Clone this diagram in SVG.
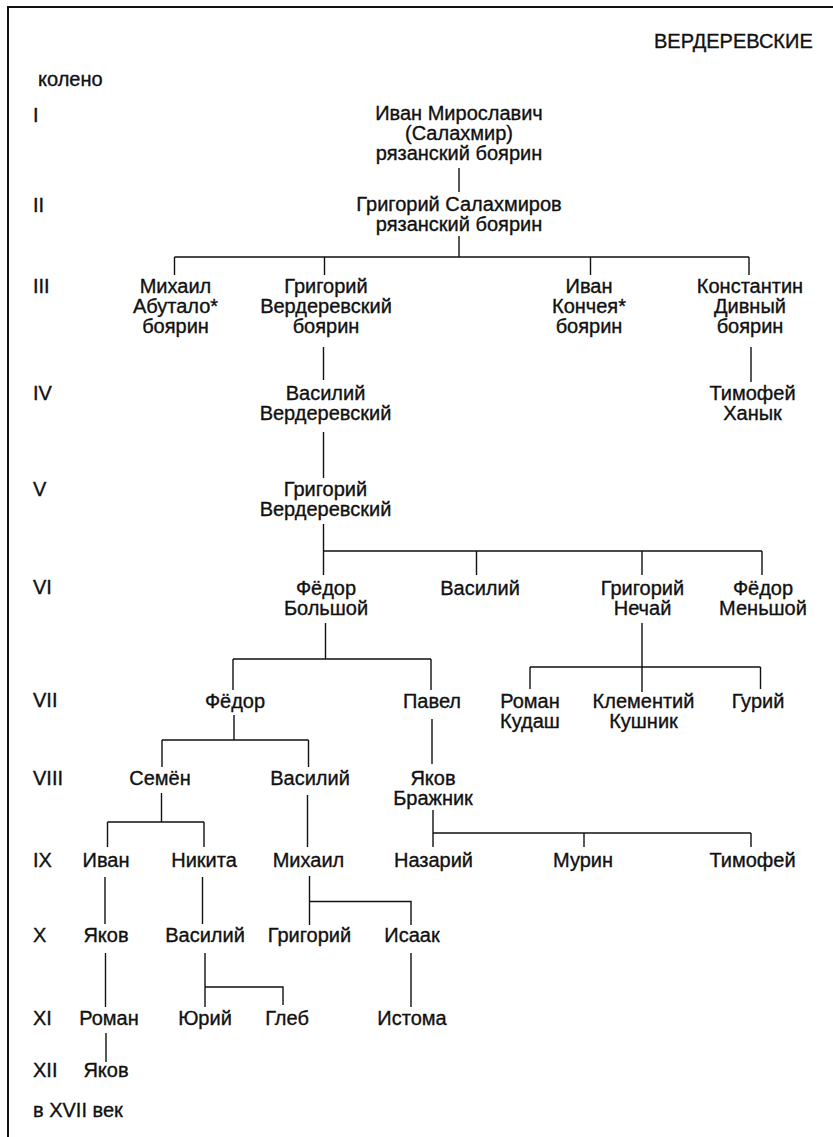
<svg xmlns="http://www.w3.org/2000/svg" width="833" height="1137" viewBox="0 0 833 1137">
<style>
text{font-family:"Liberation Sans",Arial,sans-serif;font-size:20px;fill:#111;stroke:#111;stroke-width:0.35}
.n text{text-anchor:middle}
.c path{fill:none;stroke:#111;stroke-width:1.4}
.f{fill:none;stroke:#111;stroke-width:2}
</style>
<rect width="833" height="1137" fill="#fff"/>
<path class="f" d="M8,1137 V7 H833"/>
<g id="labels">
<text x="654" y="48">ВЕРДЕРЕВСКИЕ</text>
<text x="38" y="86">колено</text>
<text x="33" y="122">I</text>
<text x="33" y="212">II</text>
<text x="33" y="293">III</text>
<text x="33" y="400">IV</text>
<text x="33" y="496">V</text>
<text x="33" y="594">VI</text>
<text x="33" y="707">VII</text>
<text x="33" y="785">VIII</text>
<text x="33" y="867">IX</text>
<text x="33" y="942">X</text>
<text x="33" y="1025">XI</text>
<text x="33" y="1077">XII</text>
<text x="33" y="1117">в XVII век</text>
</g>
<g class="c" id="connectors">
<path d="M459,168 V192"/>
<path d="M459,236 V257 M174.5,257 H749 M174.5,257 V275 M324.5,257 V275 M590.5,257 V275 M749,257 V275"/>
<path d="M323.5,347 V380"/>
<path d="M751,347 V382"/>
<path d="M323.5,432 V478"/>
<path d="M323.5,524 V575 M323.5,551 H762 M476.5,551 V575 M642,551 V575 M762,551 V575"/>
<path d="M325.5,623 V659 M233,659 H431 M233,659 V690 M431,659 V690"/>
<path d="M642,623 V692 M530,667 H760.5 M530,667 V689 M760.5,667 V689"/>
<path d="M234,715 V740 M162,740 H308.5 M162,740 V767 M308.5,740 V767"/>
<path d="M432,719 V764"/>
<path d="M161.5,793 V822 M107.5,822 H204 M107.5,822 V847 M204,822 V847"/>
<path d="M307.5,795 V847"/>
<path d="M433,810 V847 M433,833 H751 M584,833 V847 M751,833 V847"/>
<path d="M105,877 V924"/>
<path d="M202.5,877 V924"/>
<path d="M309.5,876 V925 M309.5,901.5 H411 V925"/>
<path d="M105.5,953 V1007"/>
<path d="M205,953 V1007 M205,987 H283 V1005"/>
<path d="M411,953 V1007"/>
<path d="M106,1033 V1062"/>
</g>
<g class="n">
<g id="n1"><text x="459" y="120">Иван Мирославич</text><text x="459" y="140">(Салахмир)</text><text x="459" y="160">рязанский боярин</text></g>
<g id="n2"><text x="459" y="211">Григорий Салахмиров</text><text x="459" y="231">рязанский боярин</text></g>
<g id="n3"><text x="175.5" y="293">Михаил</text><text x="175.5" y="313">Абутало*</text><text x="175.5" y="333">боярин</text></g>
<g id="n4"><text x="326" y="293">Григорий</text><text x="326" y="313">Вердеревский</text><text x="326" y="333">боярин</text></g>
<g id="n5"><text x="589" y="293">Иван</text><text x="589" y="313">Кончея*</text><text x="589" y="333">боярин</text></g>
<g id="n6"><text x="750" y="293">Константин</text><text x="750" y="313">Дивный</text><text x="750" y="333">боярин</text></g>
<g id="n7"><text x="325.5" y="400">Василий</text><text x="325.5" y="420">Вердеревский</text></g>
<g id="n8"><text x="752.5" y="400">Тимофей</text><text x="752.5" y="420">Ханык</text></g>
<g id="n9"><text x="325.5" y="496">Григорий</text><text x="325.5" y="516">Вердеревский</text></g>
<g id="n10"><text x="326" y="595">Фёдор</text><text x="326" y="615">Большой</text></g>
<g id="n11"><text x="480" y="595">Василий</text></g>
<g id="n12"><text x="642.5" y="595">Григорий</text><text x="642.5" y="615">Нечай</text></g>
<g id="n13"><text x="763" y="595">Фёдор</text><text x="763" y="615">Меньшой</text></g>
<g id="n14"><text x="235" y="708">Фёдор</text></g>
<g id="n15"><text x="432" y="708">Павел</text></g>
<g id="n16"><text x="530" y="708">Роман</text><text x="530" y="728">Кудаш</text></g>
<g id="n17"><text x="643.5" y="708">Клементий</text><text x="643.5" y="728">Кушник</text></g>
<g id="n18"><text x="758" y="708">Гурий</text></g>
<g id="n19"><text x="160" y="785">Семён</text></g>
<g id="n20"><text x="310" y="785">Василий</text></g>
<g id="n21"><text x="433" y="785">Яков</text><text x="433" y="805">Бражник</text></g>
<g id="n22"><text x="106" y="867">Иван</text></g>
<g id="n23"><text x="204" y="867">Никита</text></g>
<g id="n24"><text x="308.5" y="867">Михаил</text></g>
<g id="n25"><text x="433.5" y="867">Назарий</text></g>
<g id="n26"><text x="583" y="867">Мурин</text></g>
<g id="n27"><text x="752.5" y="867">Тимофей</text></g>
<g id="n28"><text x="106" y="942">Яков</text></g>
<g id="n29"><text x="205" y="942">Василий</text></g>
<g id="n30"><text x="309.5" y="942">Григорий</text></g>
<g id="n31"><text x="412" y="942">Исаак</text></g>
<g id="n32"><text x="109" y="1025">Роман</text></g>
<g id="n33"><text x="205" y="1025">Юрий</text></g>
<g id="n34"><text x="287" y="1025">Глеб</text></g>
<g id="n35"><text x="412" y="1025">Истома</text></g>
<g id="n36"><text x="106" y="1077">Яков</text></g>
</g>
</svg>
